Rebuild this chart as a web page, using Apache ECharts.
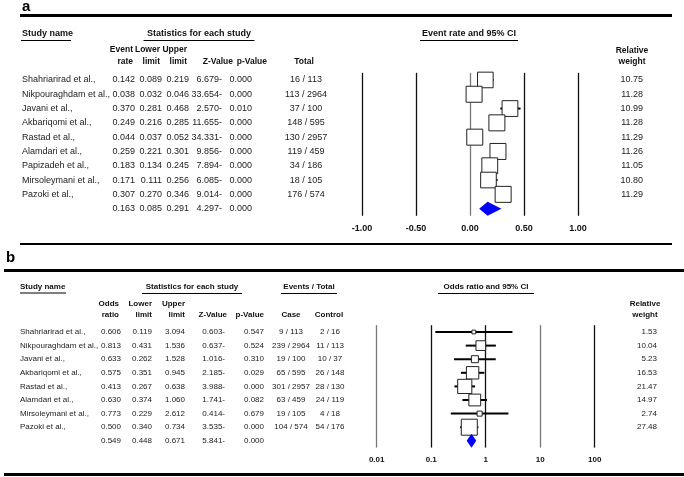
<!DOCTYPE html>
<html>
<head>
<meta charset="utf-8">
<script src="https://cdn.jsdelivr.net/npm/echarts@6/dist/echarts.min.js"></script>
<style>
  html, body { margin: 0; padding: 0; background: #fff; }
  #chart { width: 684px; height: 477px; }
</style>
</head>
<body>
<div id="chart"></div>
<script>
// ---- panel a: event rate ----
var studiesA = ['Shahriarirad et al.,', 'Nikpouraghdam et al.,', 'Javani et al.,', 'Akbariqomi et al.,', 'Rastad et al.,',
    'Alamdari et al.,', 'Papizadeh et al.,', 'Mirsoleymani et al.,', 'Pazoki et al.,'];
var rateA = [0.142, 0.038, 0.370, 0.249, 0.044, 0.259, 0.183, 0.171, 0.307];
var lowerA = [0.089, 0.032, 0.281, 0.216, 0.037, 0.221, 0.134, 0.111, 0.270];
var upperA = [0.219, 0.046, 0.468, 0.285, 0.052, 0.301, 0.245, 0.256, 0.346];
var zA = ['6.679-', '33.654-', '2.570-', '11.655-', '34.331-', '9.856-', '7.894-', '6.085-', '9.014-'];
var pA = ['0.000', '0.000', '0.010', '0.000', '0.000', '0.000', '0.000', '0.000', '0.000'];
var totalA = ['16 / 113', '113 / 2964', '37 / 100', '148 / 595', '130 / 2957', '119 / 459', '34 / 186', '18 / 105', '176 / 574'];
var weightA = [10.75, 11.28, 10.99, 11.28, 11.29, 11.26, 11.05, 10.80, 11.29];
var summaryA = [0.163, 0.085, 0.291];
var summaryStatsA = ['4.297-', '0.000'];
var ticksA = ['-1.00', '-0.50', '0.00', '0.50', '1.00'];

// ---- panel b: odds ratio ----
var studiesB = ['Shahriarirad et al.,', 'Nikpouraghdam et al.,', 'Javani et al.,', 'Akbariqomi et al.,', 'Rastad et al.,',
    'Alamdari et al.,', 'Mirsoleymani et al.,', 'Pazoki et al.,'];
var orB = [0.606, 0.813, 0.633, 0.575, 0.413, 0.630, 0.773, 0.500];
var lowerB = [0.119, 0.431, 0.262, 0.351, 0.267, 0.374, 0.229, 0.340];
var upperB = [3.094, 1.536, 1.528, 0.945, 0.638, 1.060, 2.612, 0.734];
var zB = ['0.603-', '0.637-', '1.016-', '2.185-', '3.988-', '1.741-', '0.414-', '3.535-'];
var pB = ['0.547', '0.524', '0.310', '0.029', '0.000', '0.082', '0.679', '0.000'];
var caseB = ['9 / 113', '239 / 2964', '19 / 100', '65 / 595', '301 / 2957', '63 / 459', '19 / 105', '104 / 574'];
var controlB = ['2 / 16', '11 / 113', '10 / 37', '26 / 148', '28 / 130', '24 / 119', '4 / 18', '54 / 176'];
var weightB = [1.53, 10.04, 5.23, 16.53, 21.47, 14.97, 2.74, 27.48];
var summaryB = [0.549, 0.448, 0.671];
var summaryStatsB = ['5.841-', '0.000'];
var ticksB = ['0.01', '0.1', '1', '10', '100'];

var FONT = '"Liberation Sans", Arial, sans-serif';
var myChart = echarts.init(document.getElementById('chart'));

function forestItem(weights, maxBox) {
    var wMax = Math.max.apply(null, weights);
    return function (params, api) {
        var i = params.dataIndex;
        var y = api.coord([api.value(0), i])[1];
        var xLo = api.coord([api.value(1), i])[0];
        var xHi = api.coord([api.value(2), i])[0];
        var xEst = api.coord([api.value(0), i])[0];
        var s = maxBox * Math.sqrt(api.value(3) / wMax);
        return {
            type: 'group',
            children: [
                {type: 'line', shape: {x1: xLo, y1: y, x2: xHi, y2: y}, style: {stroke: '#000', lineWidth: 2}},
                {type: 'rect', shape: {x: xEst - s / 2, y: y - s / 2, width: s, height: s},
                    style: {fill: '#fff', stroke: '#222', lineWidth: 1}}
            ]
        };
    };
}

function diamondItem(row) {
    return function (params, api) {
        var c = api.coord([api.value(0), row]);
        var lo = api.coord([api.value(1), row])[0];
        var hi = api.coord([api.value(2), row])[0];
        return {
            type: 'polygon',
            shape: {points: [[lo, c[1]], [c[0], c[1] - 7], [hi, c[1]], [c[0], c[1] + 7]]},
            style: {fill: '#0000ff'}
        };
    };
}

var option = {
    animation: false,
    grid: [
        {left: 362, width: 216, top: 72.8, height: 143},
        {left: 376.7, width: 218, top: 325.2, height: 122.4}
    ],
    xAxis: [
        {
            gridIndex: 0, type: 'value', min: -1, max: 1, interval: 0.5,
            axisLine: {show: false}, axisTick: {show: false},
            axisLabel: {
                margin: 8, fontSize: 9, fontWeight: 'bold', color: '#111', fontFamily: FONT,
                formatter: function (v, idx) { return ticksA[idx]; }
            },
            splitLine: {show: true, lineStyle: {color: ['#111', '#111', '#777', '#111', '#111'], width: 1.3}}
        },
        {
            gridIndex: 1, type: 'log', logBase: 10, min: 0.01, max: 100,
            axisLine: {show: false}, axisTick: {show: false},
            axisLabel: {
                margin: 8, fontSize: 8, fontWeight: 'bold', color: '#111', fontFamily: FONT,
                formatter: function (v) { return ticksB[Math.round(Math.log10(v)) + 2]; }
            },
            splitLine: {show: true, lineStyle: {color: ['#777', '#111', '#111', '#777', '#111'], width: 1.3}}
        }
    ],
    yAxis: [
        {gridIndex: 0, type: 'value', min: -0.5, max: 9.5, inverse: true, show: false, splitLine: {show: false}},
        {gridIndex: 1, type: 'value', min: -0.5, max: 8.5, inverse: true, show: false, splitLine: {show: false}}
    ],
    series: [
        {
            type: 'custom', xAxisIndex: 0, yAxisIndex: 0, clip: false,
            renderItem: forestItem(weightA, 16),
            encode: {x: [0, 1, 2]},
            data: rateA.map(function (v, i) { return [v, lowerA[i], upperA[i], weightA[i]]; })
        },
        {
            type: 'custom', xAxisIndex: 0, yAxisIndex: 0, clip: false,
            renderItem: diamondItem(studiesA.length),
            encode: {x: [0, 1, 2]},
            data: [summaryA]
        },
        {
            type: 'custom', xAxisIndex: 1, yAxisIndex: 1, clip: false,
            renderItem: forestItem(weightB, 16),
            encode: {x: [0, 1, 2]},
            data: orB.map(function (v, i) { return [v, lowerB[i], upperB[i], weightB[i]]; })
        },
        {
            type: 'custom', xAxisIndex: 1, yAxisIndex: 1, clip: false,
            renderItem: diamondItem(studiesB.length),
            encode: {x: [0, 1, 2]},
            data: [summaryB]
        }
    ]
};
myChart.setOption(option);

// ---- table text, rows placed through the y axes ----
var g = [];
function txt(x, y, s, opt) {
    opt = opt || {};
    g.push({
        type: 'text', x: x, y: y, silent: true,
        style: {
            text: s, fill: opt.color || '#222', font: (opt.bold ? 'bold ' : '') + (opt.size || 9) + 'px ' + FONT,
            textAlign: opt.align || 'left', textVerticalAlign: 'middle'
        }
    });
}
function hline(x1, x2, y, w) {
    g.push({type: 'line', silent: true, shape: {x1: x1, y1: y, x2: x2, y2: y}, style: {stroke: '#000', lineWidth: w}});
}
function title(x, y, s, size, w) {
    txt(x, y, s, {bold: true, size: size, align: 'center', color: '#111'});
    hline(x - w / 2, x + w / 2, y + 6.5, 1);
}
function head(x, y, s, size, align) {
    txt(x, y, s, {bold: true, size: size, align: align || 'right', color: '#111'});
}
function rowY(axis, i) { return myChart.convertToPixel({yAxisIndex: axis}, i); }
function fix3(arr) { return arr.map(function (v) { return v.toFixed(3); }); }

// panel a
txt(22, 7, 'a', {bold: true, size: 15, color: '#000'});
hline(20, 672, 15.5, 3);
head(22, 34, 'Study name', 9, 'left');
hline(21, 71, 40.5, 1);
title(199, 34, 'Statistics for each study', 9, 111);
title(469, 34, 'Event rate and 95% CI', 9, 98);
var colsA = [
    {r: 135, hr: 133, h: ['Event', 'rate'], v: fix3(rateA), s: summaryA[0].toFixed(3)},
    {r: 162, hr: 160, h: ['Lower', 'limit'], v: fix3(lowerA), s: summaryA[1].toFixed(3)},
    {r: 189, hr: 187, h: ['Upper', 'limit'], v: fix3(upperA), s: summaryA[2].toFixed(3)},
    {r: 222, hr: 233, h: ['', 'Z-Value'], v: zA, s: summaryStatsA[0]},
    {r: 252, hr: 267, h: ['', 'p-Value'], v: pA, s: summaryStatsA[1]}
];
colsA.forEach(function (col) {
    head(col.hr, 50, col.h[0], 8.5);
    head(col.hr, 62, col.h[1], 8.5);
    col.v.forEach(function (s, i) { txt(col.r, rowY(0, i), s, {size: 9, align: 'right'}); });
    txt(col.r, rowY(0, studiesA.length), col.s, {size: 9, align: 'right'});
});
head(304, 62, 'Total', 8.5, 'center');
head(632, 51, 'Relative', 8.5, 'center');
head(632, 62, 'weight', 8.5, 'center');
studiesA.forEach(function (s, i) {
    var y = rowY(0, i);
    txt(22, y, s, {size: 9});
    txt(306, y, totalA[i], {size: 9, align: 'center'});
    txt(643, y, weightA[i].toFixed(2), {size: 9, align: 'right'});
});
hline(20, 672, 244, 2);

// panel b
txt(6, 258, 'b', {bold: true, size: 15, color: '#000'});
hline(4, 684, 270.5, 3);
head(20, 287, 'Study name', 8, 'left');
hline(20, 66, 293, 1);
title(192, 287, 'Statistics for each study', 8, 100);
title(309, 287, 'Events / Total', 8, 56);
title(486, 287, 'Odds ratio and 95% CI', 8, 96);
var colsB = [
    {r: 121, hr: 119, h: ['Odds', 'ratio'], v: fix3(orB), s: summaryB[0].toFixed(3)},
    {r: 152, hr: 152, h: ['Lower', 'limit'], v: fix3(lowerB), s: summaryB[1].toFixed(3)},
    {r: 185, hr: 185, h: ['Upper', 'limit'], v: fix3(upperB), s: summaryB[2].toFixed(3)},
    {r: 225, hr: 227, h: ['', 'Z-Value'], v: zB, s: summaryStatsB[0]},
    {r: 264, hr: 264, h: ['', 'p-Value'], v: pB, s: summaryStatsB[1]}
];
colsB.forEach(function (col) {
    head(col.hr, 304, col.h[0], 8);
    head(col.hr, 315, col.h[1], 8);
    col.v.forEach(function (s, i) { txt(col.r, rowY(1, i), s, {size: 8, align: 'right'}); });
    txt(col.r, rowY(1, studiesB.length), col.s, {size: 8, align: 'right'});
});
head(291, 315, 'Case', 8, 'center');
head(329, 315, 'Control', 8, 'center');
head(645, 304, 'Relative', 8, 'center');
head(645, 315, 'weight', 8, 'center');
studiesB.forEach(function (s, i) {
    var y = rowY(1, i);
    txt(20, y, s, {size: 8});
    txt(291, y, caseB[i], {size: 8, align: 'center'});
    txt(330, y, controlB[i], {size: 8, align: 'center'});
    txt(657, y, weightB[i].toFixed(2), {size: 8, align: 'right'});
});
hline(4, 684, 474.5, 3);

myChart.setOption({graphic: g});
</script>
</body>
</html>
